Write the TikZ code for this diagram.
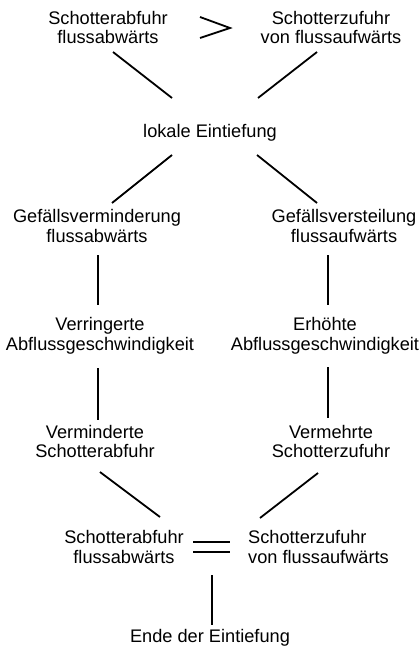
\documentclass[tikz,border=0pt]{standalone}
\usepackage{fontspec}
\setmainfont{Liberation Sans}
\usetikzlibrary{calc}

\begin{document}
\begin{tikzpicture}[x=1pt, y=-1pt,
    txt/.style={font=\fontsize{18.2}{19.5}\selectfont, align=center, inner sep=0pt},
    link/.style={line width=1.8pt}
]
\useasboundingbox (0,0) rectangle (419,647);

\node[txt] (abfuhrtop) at (108,27.5) {Schotterabfuhr\\flussabw\"arts};
\node[txt] (zufuhrtop) at (331,27.5) {Schotterzufuhr\\von flussaufw\"arts};
\coordinate (gt) at (215,27.5);
\node[txt] (lokal) at (210,133) {lokale Eintiefung};

\node[txt] (gefmin) at (97,226) {Gef\"allsverminderung\\flussabw\"arts};
\node[txt] (gefsteil) at (344,226) {Gef\"allsversteilung\\flussaufw\"arts};
\node[txt] (vlow) at (100,336) {Verringerte\\Abflussgeschwindigkeit};
\node[txt] (vhigh) at (325,336) {Erh\"ohte\\Abflussgeschwindigkeit};
\node[txt] (abfmin) at (95,441.5) {Verminderte\\Schotterabfuhr};
\node[txt] (zufmehr) at (331,441.5) {Vermehrte\\Schotterzufuhr};

\node[txt] (abfuhrbot) at (124,547) {Schotterabfuhr\\flussabw\"arts};
\node[txt, align=left, anchor=west] (zufuhrbot) at (248,547) {Schotterzufuhr\\von flussaufw\"arts};
\coordinate (eq) at (211.5,547);
\node[txt] (ende) at (210,638) {Ende der Eintiefung};

% comparison signs
\draw[link] (gt) ++(-15,-10.5) -- ++(30,11) -- ++(-30,10);
\draw[link] (eq) ++(-18.5,-5) -- ++(37,0);
\draw[link] (eq) ++(-18.5,5) -- ++(37,0);

% connectors
\draw[link] ($(abfuhrtop)+(5,24.5)$) -- ($(lokal)+(-38,-35)$);
\draw[link] ($(zufuhrtop)+(-14,24.5)$) -- ($(lokal)+(48,-35)$);
\draw[link] ($(lokal)+(-38,22)$) -- ($(gefmin)+(15,-23)$);
\draw[link] ($(lokal)+(47,22)$) -- ($(gefsteil)+(-27,-23)$);
\draw[link] ($(gefmin)+(1,29)$) -- ($(vlow)+(-2,-31)$);
\draw[link] ($(gefsteil)+(-16,29)$) -- ($(vhigh)+(3,-31)$);
\draw[link] ($(vlow)+(-2,32)$) -- ($(abfmin)+(3,-21.5)$);
\draw[link] ($(vhigh)+(3,31)$) -- ($(zufmehr)+(-3,-23.5)$);
\draw[link] ($(abfmin)+(5,30.5)$) -- ($(abfuhrbot)+(36,-30)$);
\draw[link] ($(zufmehr)+(-13,31.5)$) -- ($(zufuhrbot.west)+(12,-29)$);
\draw[link] ($(eq)+(0.5,28)$) -- ($(ende)+(2,-13)$);

\end{tikzpicture}
\end{document}
